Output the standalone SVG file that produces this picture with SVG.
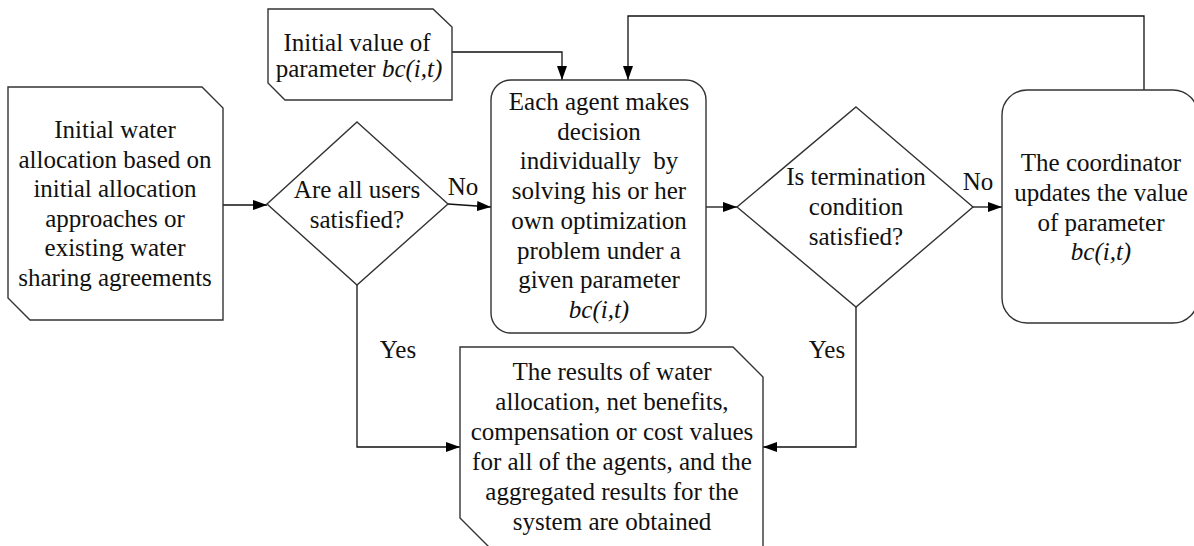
<svg xmlns="http://www.w3.org/2000/svg" width="1194" height="546" viewBox="0 0 1194 546">
  <defs>
    <marker id="arrow" viewBox="0 0 14 10" refX="14" refY="5" markerWidth="14" markerHeight="10" markerUnits="userSpaceOnUse" orient="auto">
      <path d="M0,0 L14,5 L0,10 Z" fill="#000"/>
    </marker>
  </defs>
  <style>
    .shape { fill: #fff; stroke: #333; stroke-width: 1.4; }
    .link { fill: none; stroke: #111; stroke-width: 1.3; }
    text { font-family: "Liberation Serif", "Times New Roman", serif; font-size: 25px; fill: #111; text-anchor: middle; }
    .it { font-style: italic; }
  </style>
  <rect width="1194" height="546" fill="#fff"/>

  <!-- connectors and their labels -->
  <g id="connectors">
    <path class="link" d="M223,205 L267,205" marker-end="url(#arrow)"/>
    <path class="link" d="M448,204 L491,207" marker-end="url(#arrow)"/>
    <path class="link" d="M452,52 L562,52 L562,80" marker-end="url(#arrow)"/>
    <path class="link" d="M706,207 L737,207" marker-end="url(#arrow)"/>
    <path class="link" d="M973,207 L1002,207" marker-end="url(#arrow)"/>
    <path class="link" d="M1144,90 L1144,16 L628,16 L628,80" marker-end="url(#arrow)"/>
    <path class="link" d="M357,285 L357,447 L460,447" marker-end="url(#arrow)"/>
    <path class="link" d="M856,307 L856,447 L763,447" marker-end="url(#arrow)"/>
    <text x="463" y="195">No</text>
    <text x="978" y="190">No</text>
    <text x="398" y="358">Yes</text>
    <text x="827" y="358">Yes</text>
  </g>

  <!-- initial allocation -->
  <g id="initial-allocation">
    <path class="shape" d="M8,87 L202,87 L223,108 L223,320 L30,320 L8,298 Z"/>
    <text x="115" y="138">Initial water</text>
    <text x="115" y="167.6">allocation based on</text>
    <text x="115" y="197.2">initial allocation</text>
    <text x="115" y="226.8">approaches or</text>
    <text x="115" y="256.4">existing water</text>
    <text x="115" y="286">sharing agreements</text>
  </g>

  <!-- initial parameter value -->
  <g id="initial-parameter">
    <path class="shape" d="M268,9 L433,9 L452,27 L452,100 L285,100 L268,83 Z"/>
    <text x="357" y="51">Initial value of</text>
    <text x="359" y="77">parameter <tspan class="it">bc(i,t)</tspan></text>
  </g>

  <!-- users satisfied decision -->
  <g id="users-satisfied">
    <path class="shape" d="M357,122 L448,204 L357,285 L267,204 Z"/>
    <text x="357" y="198">Are all users</text>
    <text x="357" y="228">satisfied?</text>
  </g>

  <!-- agent decisions -->
  <g id="agent-decision">
    <rect class="shape" x="491" y="80" width="215" height="253" rx="20" ry="20"/>
    <text x="599" y="110">Each agent makes</text>
    <text x="599" y="139.7">decision</text>
    <text x="599" y="169.4" xml:space="preserve">individually  by</text>
    <text x="599" y="199.1">solving his or her</text>
    <text x="599" y="228.8">own optimization</text>
    <text x="599" y="258.5">problem under a</text>
    <text x="599" y="288.2">given parameter</text>
    <text x="599" y="318" class="it">bc(i,t)</text>
  </g>

  <!-- termination decision -->
  <g id="termination">
    <path class="shape" d="M856,107 L973,207 L856,307 L737,207 Z"/>
    <text x="856" y="185">Is termination</text>
    <text x="856" y="215">condition</text>
    <text x="856" y="245">satisfied?</text>
  </g>

  <!-- coordinator update -->
  <g id="coordinator">
    <rect class="shape" x="1002" y="90" width="196" height="233" rx="25" ry="25"/>
    <text x="1101" y="171">The coordinator</text>
    <text x="1101" y="201">updates the value</text>
    <text x="1101" y="231">of parameter</text>
    <text x="1101" y="260" class="it">bc(i,t)</text>
  </g>

  <!-- results -->
  <g id="results">
    <path class="shape" d="M460,347 L733,347 L763,377 L763,549 L491,549 L460,518 Z"/>
    <text x="612" y="380">The results of water</text>
    <text x="612" y="410">allocation, net benefits,</text>
    <text x="612" y="440">compensation or cost values</text>
    <text x="612" y="470">for all of the agents, and the</text>
    <text x="612" y="500">aggregated results for the</text>
    <text x="612" y="530">system are obtained</text>
  </g>
</svg>
